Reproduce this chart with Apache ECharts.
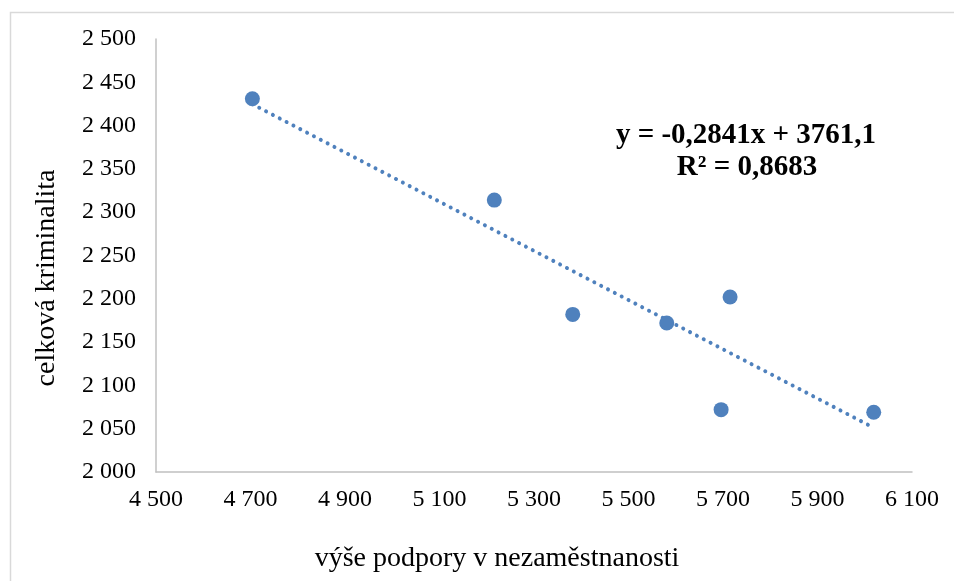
<!DOCTYPE html>
<html>
<head>
<meta charset="utf-8">
<script src="https://cdn.jsdelivr.net/npm/echarts@6/dist/echarts.min.js"></script>
<style>html,body{margin:0;padding:0;background:#fff}#c{width:954px;height:581px}</style>
</head>
<body>
<div id="c"></div>
<script>
const xTitle = 'výše podpory v nezaměstnanosti';
const yTitle = 'celková kriminalita';
const support = [4704, 5216, 5382, 5581, 5715, 5696, 6019];
const crime = [2431, 2314, 2182, 2172, 2202, 2072, 2069];
const trendSlope = -0.2841;
const trendIntercept = 3761.1;
const equationText = 'y = -0,2841x + 3761,1';
const r2Text = 'R² = 0,8683';
const xRange = [4500, 6100, 200];
const yRange = [2000, 2500, 50];

const points = support.map((x, i) => [x, crime[i]]);
const xMinData = Math.min(...support), xMaxData = Math.max(...support);
const trend = [xMinData, xMaxData].map(x => [x, trendSlope * x + trendIntercept]);

const fmt = v => String(v).replace(/\B(?=(\d{3})+(?!\d))/g, ' ');
const serif = '"Liberation Serif", "Times New Roman", serif';
const blue = '#4f81bd';

const chart = echarts.init(document.getElementById('c'));
chart.setOption({
  animation: false,
  backgroundColor: '#fff',
  textStyle: { fontFamily: serif },
  grid: { left: 156, top: 39, right: 42, bottom: 109, containLabel: false },
  xAxis: {
    type: 'value', min: xRange[0], max: xRange[1], interval: xRange[2],
    axisLine: { show: true, lineStyle: { color: '#c0c0c0', width: 1.5 } },
    axisTick: { show: false },
    splitLine: { show: false },
    axisLabel: { formatter: fmt, color: '#000', fontSize: 24, fontFamily: serif, margin: 16 }
  },
  yAxis: {
    type: 'value', min: yRange[0], max: yRange[1], interval: yRange[2],
    axisLine: { show: true, lineStyle: { color: '#c0c0c0', width: 1.5 } },
    axisTick: { show: false },
    splitLine: { show: false },
    axisLabel: { formatter: fmt, color: '#000', fontSize: 24, fontFamily: serif, margin: 20 }
  },
  series: [
    {
      type: 'line', data: trend, showSymbol: false, silent: true,
      lineStyle: { color: blue, width: 4, type: [0.01, 7.7], cap: 'round' },
      z: 1
    },
    {
      type: 'scatter', data: points, symbol: 'circle', symbolSize: 15,
      itemStyle: { color: blue, opacity: 1 }, z: 2
    }
  ],
  graphic: [
    { type: 'rect', left: 8, top: 10, shape: { width: 1000, height: 700 }, style: { fill: 'none', stroke: '#d9d9d9', lineWidth: 1.5 }, silent: true, z: -1 },
    { type: 'text', x: 746, y: 136, style: { text: equationText, font: 'bold 29px ' + serif, fill: '#000', align: 'center', verticalAlign: 'middle' } },
    { type: 'text', x: 747, y: 168, style: { text: r2Text, font: 'bold 29px ' + serif, fill: '#000', align: 'center', verticalAlign: 'middle' } },
    { type: 'text', x: 497, y: 559, style: { text: xTitle, font: '28px ' + serif, fill: '#000', align: 'center', verticalAlign: 'middle' } },
    { type: 'text', x: 47, y: 278, rotation: Math.PI / 2, style: { text: yTitle, font: '28px ' + serif, fill: '#000', align: 'center', verticalAlign: 'middle' } }
  ]
});
</script>
</body>
</html>
